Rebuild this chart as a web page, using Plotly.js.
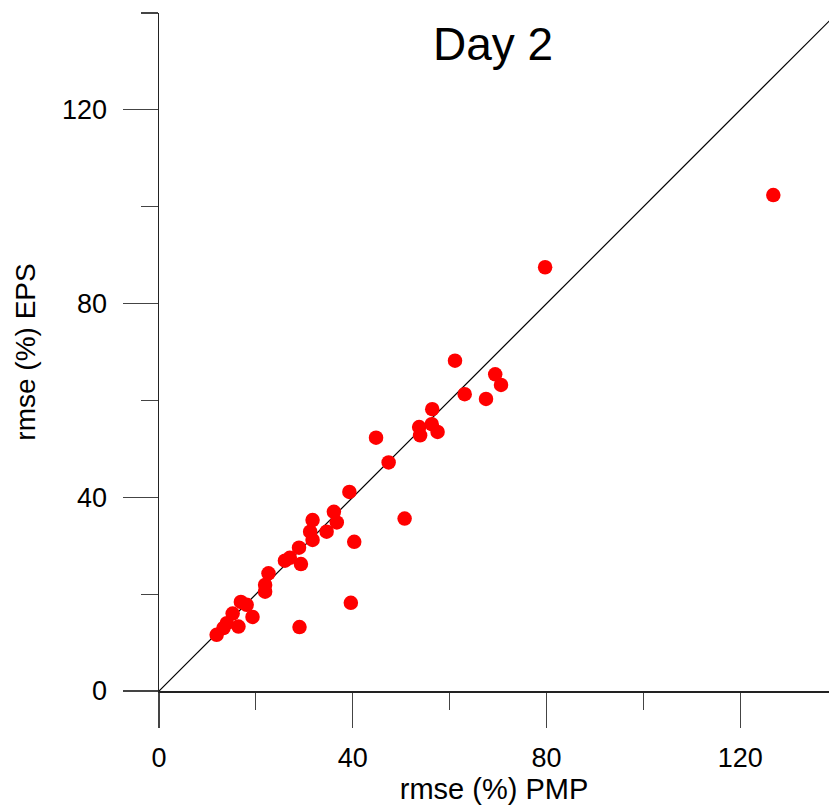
<!DOCTYPE html>
<html>
<head>
<meta charset="utf-8">
<script src="https://cdn.plot.ly/plotly-3.0.1.min.js"></script>
<style>html,body{margin:0;padding:0;background:#fff;overflow:hidden;}</style>
</head>
<body>
<div id="chart" style="width:830px;height:810px;"></div>
<script>
// rmse (%) of PMP (x) vs rmse (%) of EPS (y), Day 2
const rmsePMP = [126.8, 79.7, 61.1, 69.4, 70.6, 63.1, 67.5, 56.4, 44.8, 53.7,
                 56.3, 53.9, 57.5, 47.4, 39.3, 50.7, 36.1, 36.7, 31.7, 31.2,
                 31.7, 34.6, 40.3, 28.9, 26.0, 27.0, 29.3, 22.6, 21.9, 21.9,
                 39.6, 16.9, 18.1, 19.3, 15.2, 14.0, 16.4, 29.0, 11.9, 13.3];
const rmseEPS = [102.4, 87.5, 68.2, 65.4, 63.2, 61.3, 60.3, 58.2, 52.3, 54.5,
                 55.1, 52.8, 53.5, 47.2, 41.1, 35.6, 37.0, 34.8, 35.3, 32.9,
                 31.2, 32.9, 30.8, 29.6, 26.9, 27.5, 26.2, 24.3, 21.9, 20.5,
                 18.2, 18.4, 17.8, 15.3, 16.0, 14.0, 13.3, 13.2, 11.6, 13.0];
const diagX = [0, 140];
const diagY = [0, 140];
const tickVals = [0, 40, 80, 120];
const tickText = ['0', '40', '80', '120'];

const font = 'Liberation Sans, Arial, Helvetica, sans-serif';

const traces = [
  {x: diagX, y: diagY, mode: 'lines', type: 'scatter',
   line: {color: '#000', width: 1.2}, hoverinfo: 'skip', showlegend: false},
  {x: rmsePMP, y: rmseEPS, mode: 'markers', type: 'scatter',
   marker: {color: '#ff0000', size: 14.5, line: {width: 0}}, showlegend: false}
];

const axisCommon = {
  showgrid: false, zeroline: false, showline: true, linecolor: '#222', linewidth: 1.5,
  ticks: 'outside', ticklen: 35, tickwidth: 1.2, tickcolor: '#444',
  tickvals: tickVals, ticktext: tickText,
  tickfont: {family: font, size: 27, color: '#000'},
  minor: {tickvals: [20, 60, 100, 140], ticks: 'outside', ticklen: 17, tickwidth: 1.2, tickcolor: '#444', showgrid: false},
  automargin: false, fixedrange: true
};

const layout = {
  width: 830, height: 810,
  margin: {l: 159, r: 1, t: 13, b: 119},
  paper_bgcolor: '#fff', plot_bgcolor: '#fff',
  font: {family: font, color: '#000'},
  title: {text: 'Day 2', font: {family: font, size: 46, color: '#000'},
          x: 493/830, xanchor: 'center', xref: 'container', yref: 'container', y: 1 - 44/810, yanchor: 'middle'},
  xaxis: Object.assign({}, axisCommon, {
    range: [0, 138.3],
    ticklabelstandoff: 7,
    title: {text: 'rmse (%) PMP', font: {family: font, size: 29, color: '#000'}, standoff: 0}
  }),
  yaxis: Object.assign({}, axisCommon, {
    range: [0, 140],
    ticklabelstandoff: 10,
    title: {text: 'rmse (%) EPS', font: {family: font, size: 28, color: '#000'}, standoff: 18}
  }),
  showlegend: false
};

Plotly.newPlot('chart', traces, layout, {displayModeBar: false, staticPlot: true});
</script>
</body>
</html>
